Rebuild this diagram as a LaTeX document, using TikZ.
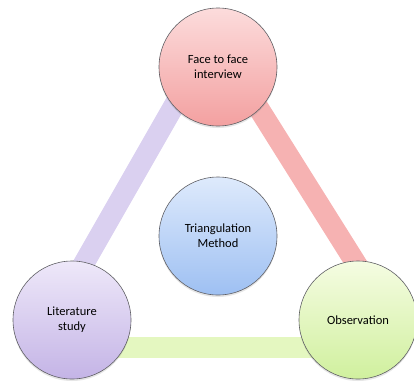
\documentclass[tikz,border=0pt]{standalone}
\usepackage{fontspec}
\setmainfont{Carlito}
\usepackage{tikz}
\usetikzlibrary{positioning,backgrounds,shadows}

\definecolor{facetop}{RGB}{252,220,220}
\definecolor{facebot}{RGB}{243,160,160}
\definecolor{triatop}{RGB}{222,234,252}
\definecolor{triabot}{RGB}{158,192,242}
\definecolor{littop}{RGB}{238,232,249}
\definecolor{litbot}{RGB}{196,180,230}
\definecolor{obstop}{RGB}{245,252,226}
\definecolor{obsbot}{RGB}{208,240,158}
\definecolor{litbarcol}{RGB}{218,208,240}
\definecolor{facebarcol}{RGB}{246,178,178}
\definecolor{obsbarcol}{RGB}{228,247,192}
\definecolor{rimcol}{RGB}{95,95,100}

\begin{document}
\begin{tikzpicture}[x=1pt,y=-1pt,
  method/.style={circle, draw=rimcol, line width=0.6pt, minimum size=118pt, inner sep=0pt,
    align=center, font=\fontsize{12.5}{15}\selectfont,
    drop shadow={opacity=0.2, shadow xshift=0pt, shadow yshift=-2pt}},
  bar/.style={line width=21pt, line cap=butt}]
\useasboundingbox (0,0) rectangle (414,381);

\node[method, top color=facetop, bottom color=facebot] at (218,67) (face) {Face to face\\interview};
\node[method, top color=triatop, bottom color=triabot] at (218,236) (tria) {Triangulation\\Method};
\node[method, top color=littop, bottom color=litbot] at (72,320) (lit) {Literature\\study};
\node[method, top color=obstop, bottom color=obsbot] at (358,320) (obs) {Observation};

\begin{scope}[on background layer]
\draw[bar, litbarcol] ([shift={(-9,-20)}]lit.center) -- ([shift={(-35,23)}]face.center);
\draw[bar, facebarcol] ([shift={(26,18)}]face.center) -- ([shift={(21,-20)}]obs.center);
\draw[bar, obsbarcol] ([shift={(28,27)}]lit.center) -- ([shift={(-28,27)}]obs.center);
\end{scope}
\end{tikzpicture}
\end{document}
